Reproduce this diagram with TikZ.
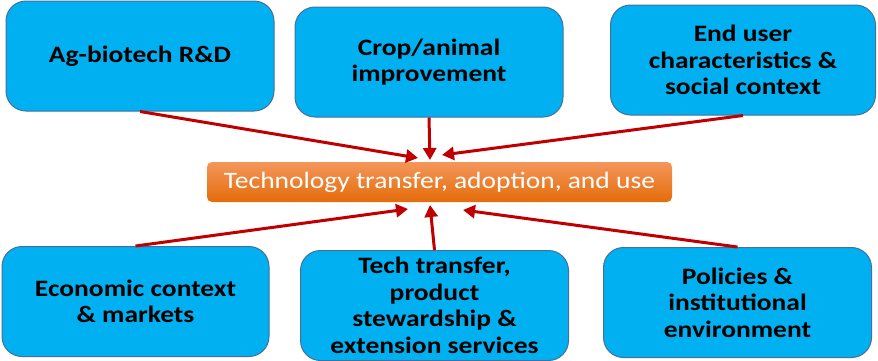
\documentclass[tikz,border=0pt]{standalone}
\usepackage{fontspec}
\setmainfont{Carlito}[FakeStretch=1.17]
\usetikzlibrary{arrows.meta}
\definecolor{boxblue}{RGB}{0,176,240}
\definecolor{boxline}{RGB}{65,113,156}
\definecolor{arrowred}{RGB}{192,0,0}
\definecolor{orangetop}{RGB}{244,150,90}
\definecolor{orangebot}{RGB}{228,108,10}
\begin{document}
\begin{tikzpicture}[x=1pt,y=-1pt,
    factor/.style={draw=boxline,line width=1pt,fill=boxblue,rounded corners=20pt,
        minimum width=268pt,minimum height=110pt,align=center,inner sep=0pt,
        font=\fontsize{23.5}{26.5}\selectfont\bfseries},
    hub/.style={rounded corners=5pt,top color=orangetop,bottom color=orangebot,
        text=white,minimum width=465pt,minimum height=40pt,inner sep=0pt,
        font=\fontsize{23.5}{26}\selectfont},
    arr/.style={draw=arrowred,line width=3pt,-{Triangle[length=12pt,width=13pt]}}]
    \useasboundingbox (0,0) rectangle (878,360);
    % centre
    \node[hub] (tech) at (439.5,182) {Technology transfer, adoption, and use};
    % top row
    \node[factor] (rd) at (140,56) {Ag-biotech R\&D};
    \node[factor] (crop) at (429,62) {Crop/animal\\improvement};
    \node[factor,minimum width=265pt] (user) at (743,60) {End user\\characteristics \&\\social context};
    % bottom row
    \node[factor,minimum width=267pt] (econ) at (135.5,301.5) {Economic context\\\& markets};
    \node[factor] (stew) at (434.5,305.5) {Tech transfer,\\product\\stewardship \&\\extension services};
    \node[factor] (policy) at (737.5,302.5) {Policies \&\\institutional\\environment};
    % arrow tips
    \coordinate (rdtip) at (418,158);
    \coordinate (croptip) at (430,160);
    \coordinate (usertip) at (442,155);
    \coordinate (econtip) at (408,209);
    \coordinate (stewtip) at (430,205);
    \coordinate (policytip) at (463,210);
    \draw[arr] (rd.south) -- (rdtip);
    \draw[arr] (crop.south) -- (croptip);
    \draw[arr] (user.south) -- (usertip);
    \draw[arr] (econ.north) -- (econtip);
    \draw[arr] (stew.north) -- (stewtip);
    \draw[arr] (policy.north) -- (policytip);
\end{tikzpicture}
\end{document}
